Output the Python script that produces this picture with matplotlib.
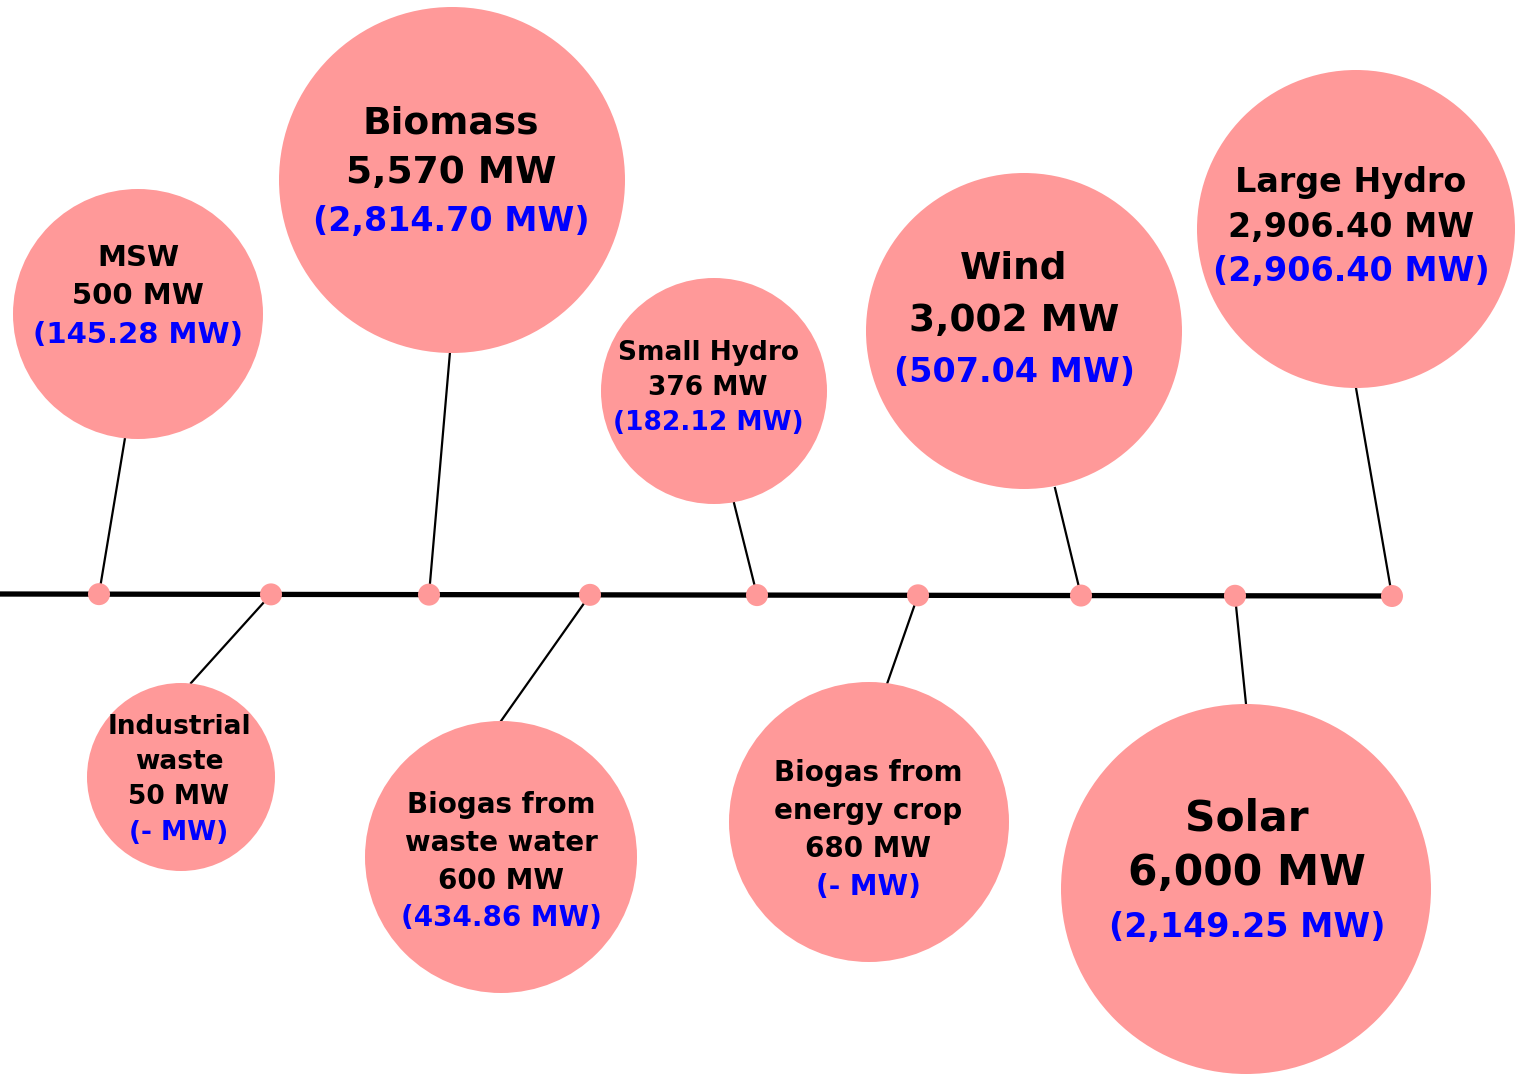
import matplotlib.pyplot as plt
from matplotlib.patches import Circle

# data
names = ["MSW", "Industrial\nwaste", "Biomass", "Biogas from\nwaste water", "Small Hydro",
         "Biogas from\nenergy crop", "Wind", "Solar", "Large Hydro"]
target_mw = [500, 50, 5570, 600, 376, 680, 3002, 6000, 2906.40]
actual_mw = [145.28, None, 2814.70, 434.86, 182.12, None, 507.04, 2149.25, 2906.40]

# layout in pixels: dot x, circle centre, radius, connector end, text x, first text line y, line gap, font sizes
dot_x = [99, 271, 429, 590, 757, 918, 1081, 1235, 1392]
centres = [(138, 314), (181, 777), (452, 180), (501, 857), (714, 391),
           (869, 822), (1024, 331), (1246, 889), (1356, 229)]
radii = [125, 94, 173, 136, 113, 140, 158, 185, 159]
ends = [(125, 438), (191, 683), (450, 352), (501, 721), (734, 503),
        (887, 684), (1055, 488), (1246, 704), (1356, 388)]
text_x = [138, 179, 451, 501, 708, 868, 1014, 1247, 1351]
first_y = [255, 724, 120, 803, 350, 771, 265, 815, 180]
gaps = [38.5, 35.3, 49.5, 37.7, 35, 38, 52.5, 55, 44.5]
big_fs = [21, 19, 27, 20, 19, 20, 27, 30.5, 24]
blue_fs = [21, 19, 24, 20, 19, 20, 24, 24, 24]

PINK = "#ff9999"
W, H = 1518, 1081


def fmt(v):
    if v is None:
        return "(- MW)"
    return f"({v:,.2f} MW)"


def fmt_target(v):
    if float(v).is_integer():
        return f"{int(v):,} MW"
    return f"{v:,.2f} MW"


fig = plt.figure(figsize=(W / 100, H / 100), dpi=100)
ax = fig.add_axes([0, 0, 1, 1])
ax.set_xlim(0, W)
ax.set_ylim(H, 0)
ax.set_aspect("equal")
ax.axis("off")

# timeline
ax.plot([0, dot_x[-1]], [594, 596], color="black", lw=3.8, zorder=1, solid_capstyle="butt")

def line_y(x):
    return 594 + 2 * x / dot_x[-1]

for i in range(len(names)):
    dy = line_y(dot_x[i])
    ax.plot([dot_x[i], ends[i][0]], [dy, ends[i][1]], color="black", lw=1.6, zorder=2)
    ax.add_patch(Circle((dot_x[i], dy), 11, color=PINK, zorder=3, lw=0))
    ax.add_patch(Circle(centres[i], radii[i], color=PINK, zorder=3, lw=0))

    lines = names[i].split("\n") + [fmt_target(target_mw[i])]
    cols = ["black"] * len(lines) + ["blue"]
    sizes = [big_fs[i]] * len(lines) + [blue_fs[i]]
    lines = lines + [fmt(actual_mw[i])]
    for k, (txt, c, fs) in enumerate(zip(lines, cols, sizes)):
        y = first_y[i] + k * gaps[i]
        base = y + 0.365 * fs / 0.72
        ax.text(text_x[i], base, txt, color=c, fontsize=fs, fontweight="bold",
                ha="center", va="baseline", zorder=4, family="DejaVu Sans")

fig.savefig("out.png", dpi=100, facecolor="white")
